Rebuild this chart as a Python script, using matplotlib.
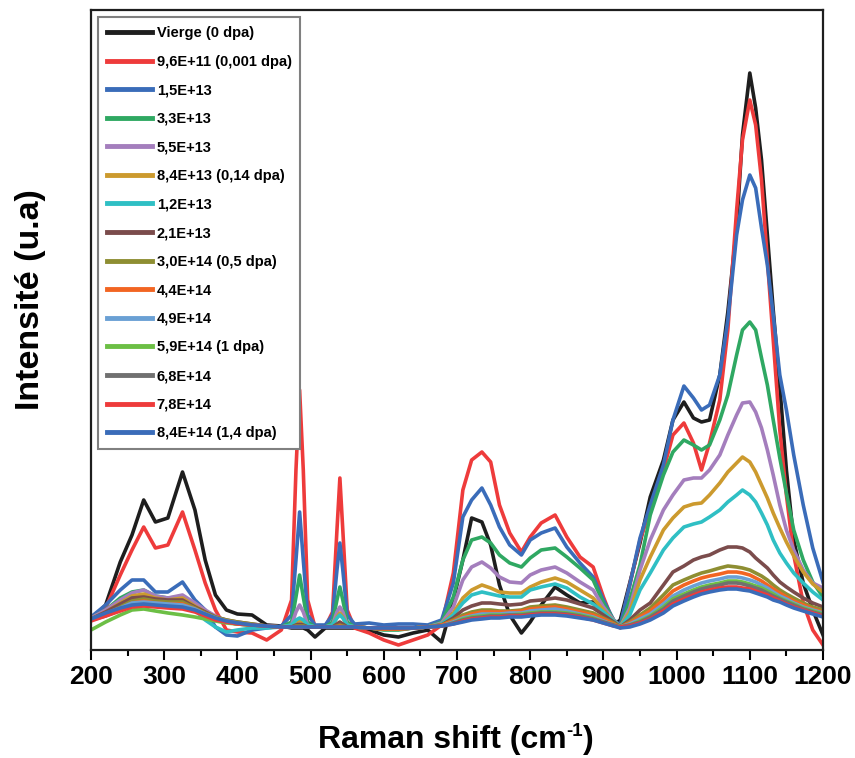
import matplotlib
matplotlib.use("Agg")
import matplotlib.pyplot as plt

# Raman spectra (intensity in arbitrary units)
shift = [200, 220, 240, 256, 272, 288, 305, 325, 342, 356, 370, 385, 400, 420, 440, 460,
         474, 480, 485, 490, 496, 506, 520, 530, 536, 540, 544, 550, 560, 580, 600, 620,
         640, 660, 679, 695, 708, 720, 734, 746, 758, 772, 788, 800, 815, 834, 850, 868,
         886, 900, 914, 923, 936, 950, 964, 982, 995, 1010, 1023, 1034, 1045, 1059, 1070,
         1082, 1090, 1100, 1108, 1116, 1124, 1132, 1141, 1150, 1160, 1173, 1186, 1200]

vierge = [30, 45, 88, 115, 150, 128, 132, 178, 140, 90, 55, 40, 36, 35, 25, 24, 22, 22, 22, 22,
          20, 13, 22, 22, 22, 22, 22, 22, 22, 20, 15, 13, 17, 20, 8, 50, 90, 132, 128, 105,
          65, 35, 17, 28, 45, 63, 55, 47, 48, 37, 25, 30, 67, 107, 153, 190, 230, 248, 232, 228,
          230, 275, 338, 423, 515, 577, 542, 490, 415, 340, 263, 180, 110, 67, 40, 15]
f_9_6e11 = [30, 42, 75, 100, 123, 102, 105, 138, 100, 67, 40, 20, 18, 17, 10, 20, 50, 180, 260, 180,
            50, 23, 23, 38, 120, 172, 120, 40, 22, 17, 10, 5, 10, 15, 25, 77, 160, 190, 198, 188,
            145, 117, 98, 113, 127, 135, 113, 93, 83, 53, 27, 22, 65, 110, 140, 180, 215, 227, 207, 180,
            207, 250, 320, 440, 510, 550, 525, 470, 390, 310, 220, 155, 95, 47, 20, 5]
f_1_5e13 = [33, 45, 60, 70, 70, 58, 58, 68, 50, 40, 23, 15, 14, 20, 22, 24, 35, 90, 138, 90,
            35, 25, 25, 35, 80, 107, 80, 35, 26, 27, 25, 26, 26, 25, 30, 67, 133, 150, 162, 145,
            123, 105, 95, 110, 117, 122, 103, 87, 73, 50, 30, 25, 65, 112, 145, 185, 230, 264, 252, 240,
            245, 275, 330, 415, 450, 475, 462, 422, 385, 335, 275, 240, 195, 145, 102, 68]
f_3_3e13 = [32, 40, 52, 58, 60, 54, 52, 53, 45, 38, 32, 28, 26, 25, 23, 23, 28, 53, 75, 53,
            28, 23, 23, 28, 50, 63, 50, 28, 23, 22, 20, 20, 22, 23, 28, 53, 90, 110, 113, 107,
            95, 87, 83, 92, 100, 102, 93, 82, 70, 47, 30, 23, 50, 85, 135, 175, 198, 210, 205, 200,
            205, 230, 255, 295, 320, 328, 320, 292, 265, 230, 192, 157, 120, 90, 68, 53]
f_5_5e13 = [32, 40, 50, 57, 60, 54, 52, 55, 47, 40, 34, 29, 26, 25, 23, 23, 25, 38, 45, 38,
            25, 23, 23, 25, 38, 43, 38, 25, 23, 22, 21, 21, 22, 23, 27, 43, 70, 83, 88, 82,
            73, 68, 67, 75, 80, 83, 77, 68, 60, 43, 30, 23, 42, 80, 110, 140, 155, 170, 172, 172,
            180, 195, 215, 235, 247, 248, 238, 222, 200, 175, 145, 120, 100, 80, 67, 62]
f_8_4e13 = [31, 38, 47, 54, 56, 52, 50, 52, 44, 38, 32, 28, 26, 25, 23, 23, 24, 28, 30, 28,
            24, 23, 23, 24, 33, 37, 33, 24, 23, 22, 21, 21, 22, 23, 26, 37, 52, 60, 65, 62,
            58, 57, 57, 63, 68, 72, 68, 60, 52, 40, 29, 23, 38, 70, 93, 120, 132, 143, 146, 147,
            155, 167, 178, 187, 193, 188, 178, 165, 152, 137, 122, 108, 94, 78, 66, 58]
f_1_2e13 = [31, 37, 45, 52, 52, 49, 47, 48, 40, 30, 23, 18, 20, 22, 22, 23, 25, 30, 32, 30,
            25, 23, 23, 25, 32, 35, 32, 25, 23, 22, 21, 21, 22, 23, 26, 35, 47, 55, 58, 56,
            54, 53, 53, 60, 63, 66, 62, 53, 46, 38, 29, 23, 35, 60, 77, 100, 112, 123, 126, 128,
            133, 140, 148, 155, 160, 155, 148, 137, 125, 110, 97, 87, 77, 67, 58, 50]
f_2_1e13 = [31, 38, 46, 52, 53, 51, 50, 50, 43, 38, 33, 30, 28, 26, 24, 23, 23, 25, 26, 25,
            23, 23, 23, 23, 26, 28, 26, 23, 23, 22, 21, 21, 22, 23, 25, 32, 40, 44, 47, 47,
            46, 45, 46, 49, 50, 52, 50, 46, 42, 35, 28, 23, 30, 40, 47, 65, 78, 84, 90, 93,
            95, 100, 103, 103, 102, 98, 92, 87, 82, 75, 68, 63, 58, 52, 47, 43]
f_3_0e14 = [30, 36, 43, 49, 51, 49, 48, 48, 42, 37, 33, 30, 28, 26, 24, 23, 23, 24, 24, 24,
            23, 23, 23, 23, 24, 25, 24, 23, 23, 22, 21, 21, 22, 23, 25, 30, 35, 38, 40, 40,
            39, 39, 40, 43, 44, 45, 43, 40, 37, 32, 27, 23, 28, 35, 42, 55, 65, 70, 74, 77,
            79, 82, 84, 83, 82, 80, 77, 74, 70, 65, 60, 56, 52, 47, 43, 40]
f_4_4e14 = [30, 35, 41, 47, 49, 47, 46, 46, 41, 36, 32, 29, 27, 25, 24, 23, 23, 23, 23, 23,
            23, 23, 23, 23, 23, 24, 23, 23, 23, 22, 21, 21, 22, 23, 25, 29, 33, 36, 38, 38,
            38, 38, 39, 41, 42, 43, 41, 38, 35, 31, 26, 23, 27, 33, 39, 50, 59, 65, 69, 72,
            74, 76, 78, 78, 77, 75, 72, 69, 65, 61, 57, 53, 49, 45, 41, 38]
f_4_9e14 = [31, 36, 42, 47, 48, 47, 46, 45, 41, 36, 32, 29, 27, 25, 24, 23, 23, 23, 23, 23,
            23, 23, 23, 23, 23, 23, 23, 23, 23, 22, 22, 22, 22, 23, 24, 28, 32, 34, 36, 36,
            36, 37, 37, 39, 40, 41, 39, 36, 33, 29, 25, 23, 26, 31, 36, 46, 54, 60, 64, 67,
            69, 71, 73, 73, 72, 70, 68, 65, 62, 58, 54, 51, 47, 43, 40, 37]
f_5_9e14 = [20, 28, 35, 40, 41, 39, 37, 35, 33, 31, 29, 27, 26, 25, 24, 23, 23, 23, 23, 23,
            23, 23, 23, 23, 23, 23, 23, 23, 23, 22, 22, 22, 22, 23, 24, 27, 31, 33, 34, 35,
            35, 35, 36, 37, 38, 38, 37, 35, 32, 28, 25, 23, 25, 29, 34, 43, 51, 56, 60, 63,
            65, 67, 69, 69, 68, 66, 64, 62, 59, 56, 52, 49, 46, 42, 39, 36]
f_6_8e14 = [30, 34, 40, 44, 45, 44, 43, 42, 39, 35, 31, 28, 27, 25, 24, 23, 23, 23, 23, 23,
            23, 23, 23, 23, 23, 23, 23, 23, 23, 22, 22, 22, 22, 23, 24, 27, 30, 32, 33, 34,
            34, 35, 35, 36, 37, 37, 36, 34, 31, 28, 25, 23, 25, 28, 33, 41, 49, 54, 58, 61,
            63, 65, 67, 67, 66, 64, 62, 60, 57, 54, 51, 48, 45, 41, 38, 35]
f_7_8e14 = [29, 34, 39, 43, 44, 43, 42, 41, 38, 34, 30, 28, 26, 25, 24, 23, 23, 23, 23, 23,
            23, 23, 23, 23, 23, 23, 23, 23, 23, 22, 22, 22, 22, 23, 24, 26, 29, 31, 32, 33,
            33, 34, 34, 35, 36, 36, 35, 33, 30, 27, 24, 23, 24, 27, 31, 39, 46, 51, 55, 58,
            60, 62, 63, 63, 62, 61, 59, 57, 55, 52, 49, 46, 43, 40, 37, 34]
f_8_4e14 = [31, 37, 42, 45, 46, 45, 44, 43, 40, 36, 32, 29, 27, 25, 24, 23, 23, 23, 23, 23,
            23, 23, 23, 23, 23, 23, 23, 23, 23, 22, 22, 22, 22, 23, 24, 26, 28, 30, 31, 32,
            32, 33, 33, 34, 35, 35, 34, 32, 30, 27, 24, 22, 23, 26, 30, 37, 44, 49, 53, 56,
            58, 60, 61, 61, 60, 59, 57, 55, 53, 50, 48, 45, 42, 39, 36, 33]

labels = ["Vierge (0 dpa)", "9,6E+11 (0,001 dpa)", "1,5E+13", "3,3E+13", "5,5E+13",
          "8,4E+13 (0,14 dpa)", "1,2E+13", "2,1E+13", "3,0E+14 (0,5 dpa)", "4,4E+14",
          "4,9E+14", "5,9E+14 (1 dpa)", "6,8E+14", "7,8E+14", "8,4E+14 (1,4 dpa)"]
series = [vierge, f_9_6e11, f_1_5e13, f_3_3e13, f_5_5e13, f_8_4e13, f_1_2e13, f_2_1e13,
          f_3_0e14, f_4_4e14, f_4_9e14, f_5_9e14, f_6_8e14, f_7_8e14, f_8_4e14]
colors = ["#1e1e1e", "#ee3b3b", "#3a6cb9", "#2fa862", "#a47ebd", "#cc9a2e", "#2fbfc4",
          "#7b4c4c", "#8e8e32", "#f26522", "#6aa0d4", "#6cbf45", "#707070", "#ee3b3b", "#3a6cb9"]

plt.rcParams["font.family"] = ["Liberation Sans", "DejaVu Sans"]
plt.rcParams["font.weight"] = "bold"

W, H = 855, 758
fig = plt.figure(figsize=(W / 100, H / 100), dpi=100)
ax = fig.add_axes([91 / W, 108 / H, 732 / W, 640 / H])

for y, lab, c in zip(series, labels, colors):
    ax.plot(shift, y, color=c, lw=2.6, label=lab, solid_joinstyle="round")

ax.set_xlim(200, 1200)
ax.set_ylim(0, 640)
ax.set_yticks([])
ax.set_xticks(range(200, 1201, 100))
ax.set_xticks(range(250, 1200, 100), minor=True)
ax.tick_params(axis="x", which="major", direction="out", length=7, width=1.5, pad=4,
               labelsize=19)
ax.tick_params(axis="x", which="minor", direction="out", length=4, width=1.5)
for s in ax.spines.values():
    s.set_linewidth(1.6)
    s.set_color("#1e1e1e")

# x label built in pieces so the superscript stays a small hyphen "-1"
r = fig.canvas.get_renderer()
parts = [("Raman shift (cm", 23, 0), ("-1", 13.5, 12), (")", 23, 0)]
texts = [fig.text(0, 0, s, fontsize=fs, fontweight="bold", va="baseline")
         for s, fs, _ in parts]
widths = [t.get_window_extent(r).width for t in texts]
x0 = 456 - sum(widths) / 2
for t, (s, fs, rise), w in zip(texts, parts, widths):
    t.set_position((x0 / W, (H - 748 + rise) / H))
    x0 += w

fig.text(31 / W, 1 - 300 / H, "Intensité (u.a)", rotation=90, ha="center",
         va="center", fontsize=24.5, fontweight="bold")

leg = ax.legend(loc="upper left", prop={"size": 10.5, "weight": "bold"}, fancybox=False,
                edgecolor="#808080", framealpha=1, handlelength=3.1, handletextpad=0.3,
                labelspacing=1.0, borderaxespad=0.5, borderpad=0.6)
leg.get_frame().set_linewidth(1.5)
for line in leg.get_lines():
    line.set_linewidth(3.5)

fig.savefig("out.png", dpi=100)
